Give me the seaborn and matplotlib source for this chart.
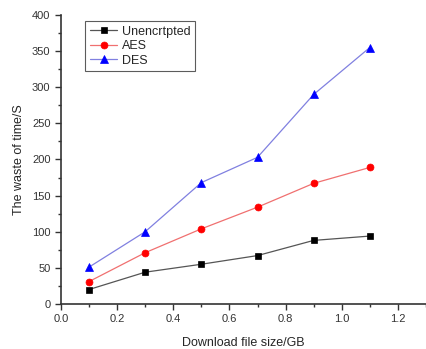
import numpy as np
import pandas as pd
import matplotlib
matplotlib.use("Agg")
import matplotlib.pyplot as plt
import seaborn as sns
from matplotlib.ticker import MultipleLocator

sizes = [0.1, 0.3, 0.5, 0.7, 0.9, 1.1]
unencrypted = [20, 44, 55, 67, 88, 94]
aes = [31, 71, 104, 134, 167, 189]
des = [51, 100, 168, 203, 290, 355]

series = {"Unencrtpted": unencrypted, "AES": aes, "DES": des}
colors = {"Unencrtpted": "#000000", "AES": "#ff0000", "DES": "#0000ff"}
line_colors = {"Unencrtpted": "#555555", "AES": "#f07070", "DES": "#8080e0"}
markers = {"Unencrtpted": "s", "AES": "o", "DES": "^"}
msizes = {"Unencrtpted": 4, "AES": 5, "DES": 5.5}

sns.set_style("ticks")
plt.rcParams['font.family'] = ['Liberation Sans', 'DejaVu Sans']

fig = plt.figure(figsize=(4.26, 3.49), dpi=100)
ax = fig.add_axes([0.143, 0.129, 0.857, 0.828])

for name, vals in series.items():
    df = pd.DataFrame({"size": sizes, "time": vals})
    sns.lineplot(data=df, x="size", y="time", ax=ax, color=line_colors[name],
                 linewidth=0.9, marker=markers[name], markersize=msizes[name],
                 markerfacecolor=colors[name], markeredgecolor=colors[name],
                 markeredgewidth=0.5, label=name)

ax.set_xlim(0, 1.3)
ax.set_ylim(0, 400)
ax.xaxis.set_major_locator(MultipleLocator(0.2))
ax.xaxis.set_minor_locator(MultipleLocator(0.1))
ax.yaxis.set_major_locator(MultipleLocator(50))
ax.yaxis.set_minor_locator(MultipleLocator(25))
ax.tick_params(which='major', length=4, width=1, labelsize=8, colors='#333333')
ax.tick_params(which='minor', length=2, width=1, colors='#333333')
for s in ['left', 'bottom']:
    ax.spines[s].set_linewidth(1.2)
    ax.spines[s].set_color('#333333')
sns.despine(ax=ax)

ax.set_xlabel("Download file size/GB", fontsize=9, labelpad=9)
ax.set_ylabel("The waste of time/S", fontsize=9, labelpad=5)

leg = ax.legend(loc='upper left', bbox_to_anchor=(0.05, 1.0), fontsize=9,
                frameon=True, fancybox=False, borderpad=0.35, handlelength=2.2,
                labelspacing=0.2, handletextpad=0.4)
leg.get_frame().set_edgecolor('#333333')
leg.get_frame().set_linewidth(0.8)

fig.savefig("out.png", dpi=100)
